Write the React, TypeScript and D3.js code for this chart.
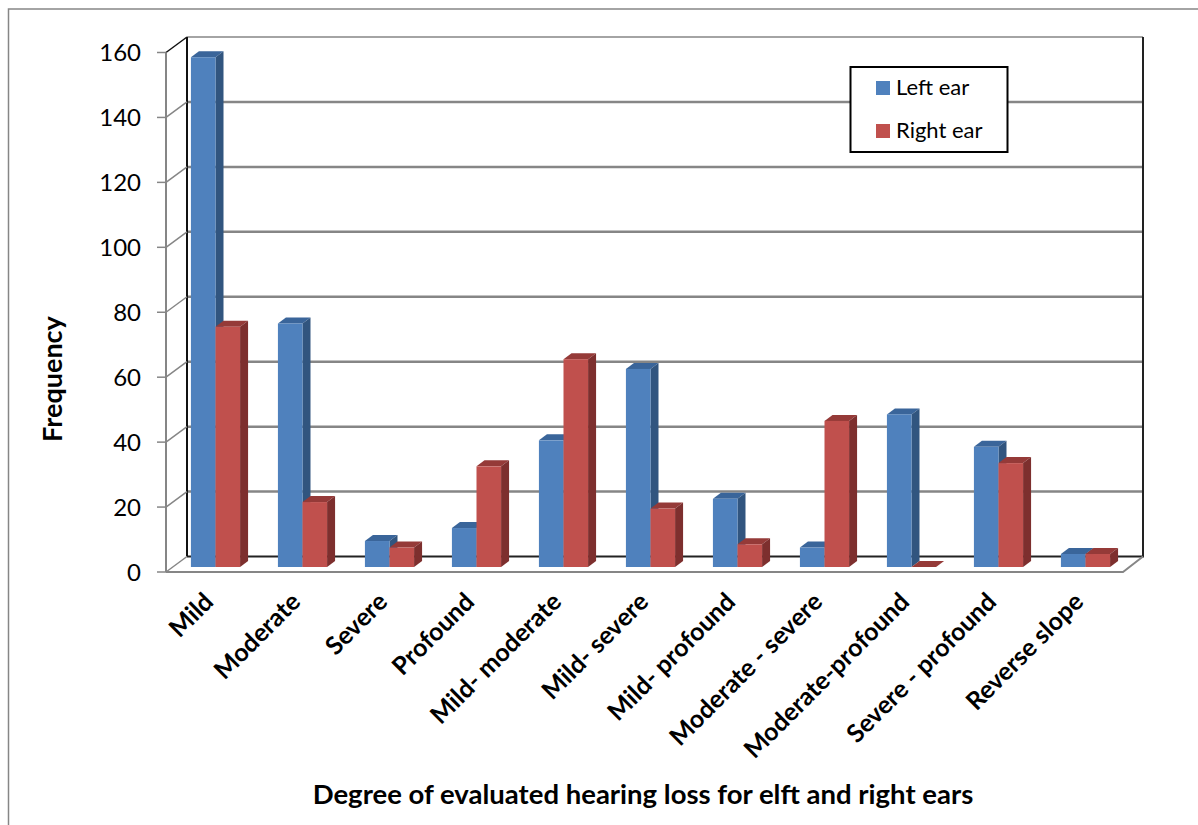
import * as d3 from 'd3'

const categories = [
  'Mild',
  'Moderate',
  'Severe',
  'Profound',
  'Mild- moderate',
  'Mild- severe',
  'Mild- profound',
  'Moderate - severe',
  'Moderate-profound',
  'Severe - profound',
  'Reverse slope',
]
const leftEar = [157, 75, 8, 12, 39, 61, 21, 6, 47, 37, 4]
const rightEar = [74, 20, 6, 31, 64, 18, 7, 45, 0, 32, 4]
const yTicks = [0, 20, 40, 60, 80, 100, 120, 140, 160]

const series = [
  { name: 'Left ear', values: leftEar, front: '#4f81bd', side: '#31557f', top: '#3a659a' },
  { name: 'Right ear', values: rightEar, front: '#c0504d', side: '#7d2f2e', top: '#953a38' },
]

const width = 1198
const height = 825
const marginLeft = 166
const marginRight = 1123
const y0 = 572
const yTop = 52.5
// 3d offsets
const wallDx = 21
const wallDy = 15.5
const barDx = 8
const barDy = 6
const barBase = 567
const grey = '#868686'
const font = 'Lato, "Open Sans", sans-serif'

export default function App() {
  const x = d3.scaleBand(categories, [marginLeft, marginRight]).paddingInner(0.435).paddingOuter(0.2175)
  const xs = d3.scaleBand(['Left ear', 'Right ear'], [0, x.bandwidth()])
  const y = d3.scaleLinear([0, 160], [y0, yTop])
  const barY = d3.scaleLinear([0, 160], [barBase, barBase - (y0 - yTop)])

  return (
    <svg
      width={width}
      height={height}
      style={{ position: 'absolute', left: 0, top: 0, background: '#fff' }}
    >
      {/* outer frame */}
      <path d={`M8.5,${height}V9H${width}`} fill="none" stroke={grey} strokeWidth={1.5} />

      {/* walls */}
      {yTicks.slice(1).map((t) => (
        <line
          key={t}
          x1={marginLeft + wallDx}
          x2={marginRight + wallDx - 1}
          y1={y(t) - wallDy}
          y2={y(t) - wallDy}
          stroke={grey}
          strokeWidth={t === 160 ? 1.5 : 2.5}
        />
      ))}
      <line x1={marginLeft + wallDx} x2={marginRight + wallDx} y1={y0 - wallDy} y2={y0 - wallDy} stroke="#222" strokeWidth={2} />
      <line x1={marginLeft + wallDx} x2={marginLeft + wallDx} y1={yTop - wallDy} y2={y0 - wallDy} stroke="#111" strokeWidth={2} />
      <line x1={marginRight + wallDx - 1} x2={marginRight + wallDx - 1} y1={yTop - wallDy} y2={y0 - wallDy} stroke="#222" strokeWidth={2} />

      {/* left wall and floor */}
      {yTicks.map((t) => (
        <g key={t}>
          <line x1={157} x2={marginLeft} y1={y(t)} y2={y(t)} stroke={grey} strokeWidth={1.5} />
          <line
            x1={marginLeft}
            x2={marginLeft + wallDx}
            y1={y(t)}
            y2={y(t) - wallDy}
            stroke={t === 160 ? '#111' : grey}
            strokeWidth={1.5}
          />
          <text x={141} y={y(t)} dy="0.36em" textAnchor="end" fontFamily={font} fontSize={24} fill="#000">
            {t}
          </text>
        </g>
      ))}
      <line x1={marginLeft} x2={marginLeft} y1={yTop} y2={y0} stroke={grey} strokeWidth={2} />
      <path
        d={`M${marginLeft},${y0}H${marginRight}L${marginRight + wallDx - 1},${y0 - wallDy}`}
        fill="none"
        stroke={grey}
        strokeWidth={2}
      />

      {/* bars */}
      {categories.map((c, i) => (
        <g key={c} transform={`translate(${(x(c) as number) + 6},0)`}>
          {series.map((s) => {
            const bx = xs(s.name) as number
            const w = xs.bandwidth()
            const top = barY(s.values[i])
            return (
              <g key={s.name}>
                <path
                  d={`M${bx},${top}l${barDx},${-barDy}h${w}l${-barDx},${barDy}z`}
                  fill={s.top}
                />
                <path
                  d={`M${bx + w},${top}l${barDx},${-barDy}V${barBase - barDy}l${-barDx},${barDy}z`}
                  fill={s.side}
                />
                <rect x={bx} y={top} width={w} height={barBase - top} fill={s.front} />
              </g>
            )
          })}
        </g>
      ))}

      {/* category labels */}
      {categories.map((c) => (
        <text
          key={c}
          transform={`translate(${(x(c) as number) + x.bandwidth() / 2 - 7},591) rotate(-45)`}
          textAnchor="end"
          dy="0.7em"
          fontFamily={font}
          fontWeight={700}
          fontSize={25}
          fill="#000"
        >
          {c}
        </text>
      ))}

      {/* axis titles */}
      <text
        transform="translate(52,379) rotate(-90)"
        dy="0.36em"
        textAnchor="middle"
        fontFamily={font}
        fontWeight={700}
        fontSize={27}
        fill="#000"
      >
        Frequency
      </text>
      <text
        x={643}
        y={794}
        dy="0.36em"
        textAnchor="middle"
        fontFamily={font}
        fontWeight={700}
        fontSize={27.5}
        fill="#000"
      >
        Degree of evaluated hearing loss for elft and right ears
      </text>

      {/* legend */}
      <rect x={850.5} y={67} width={157} height={85} fill="#fff" stroke="#000" strokeWidth={2} />
      {series.map((s, i) => (
        <g key={s.name} transform={`translate(876,${81 + i * 43})`}>
          <rect width={14} height={14} fill={s.front} />
          <text x={20} y={6} dy="0.36em" fontFamily={font} fontSize={22} fill="#000">
            {s.name}
          </text>
        </g>
      ))}
    </svg>
  )
}
